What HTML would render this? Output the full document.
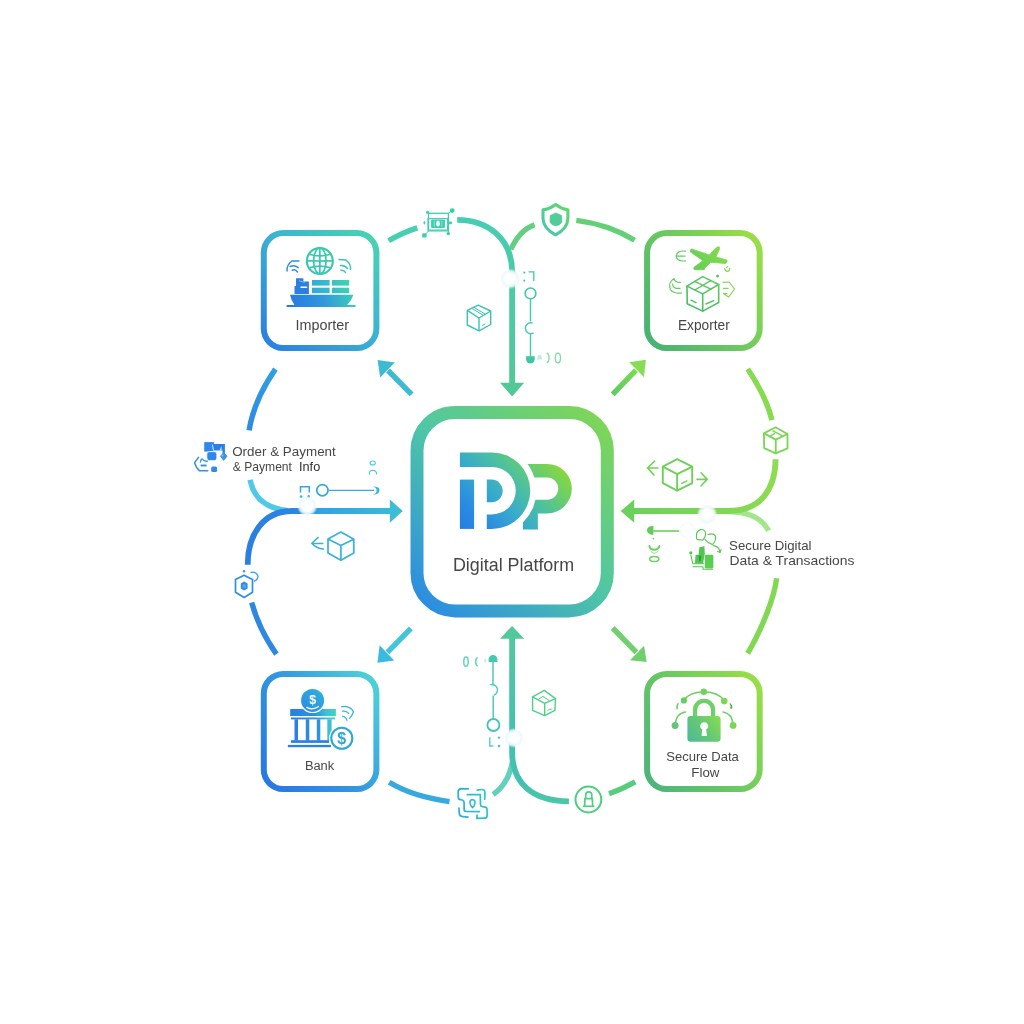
<!DOCTYPE html>
<html>
<head>
<meta charset="utf-8">
<title>Digital Platform</title>
<style>
html,body{margin:0;padding:0;background:#ffffff;}
body{width:1024px;height:1024px;overflow:hidden;font-family:"Liberation Sans",sans-serif;}
svg{display:block;position:absolute;left:0;top:0;}
text{font-family:"Liberation Sans",sans-serif;fill:#464646;}
</style>
</head>
<body>
<svg width="1024" height="1024" viewBox="0 0 1024 1024">
<defs>
  <linearGradient id="gCenter" gradientUnits="userSpaceOnUse" x1="425" y1="610" x2="605" y2="415">
    <stop offset="0" stop-color="#2b8be3"/>
    <stop offset="0.5" stop-color="#4fc6a6"/>
    <stop offset="1" stop-color="#80d654"/>
  </linearGradient>
  <linearGradient id="gLogo" gradientUnits="userSpaceOnUse" x1="458" y1="532" x2="548" y2="446">
    <stop offset="0" stop-color="#227ce4"/>
    <stop offset="0.2" stop-color="#2a8be2"/>
    <stop offset="0.42" stop-color="#38aacc"/>
    <stop offset="0.62" stop-color="#4cc0a0"/>
    <stop offset="0.82" stop-color="#6ecf66"/>
    <stop offset="1" stop-color="#90da30"/>
  </linearGradient>
  <linearGradient id="gImp" gradientUnits="userSpaceOnUse" x1="265" y1="348" x2="378" y2="233">
    <stop offset="0" stop-color="#2a7de2"/>
    <stop offset="0.55" stop-color="#3cb4d2"/>
    <stop offset="1" stop-color="#49d5ae"/>
  </linearGradient>
  <linearGradient id="gExp" gradientUnits="userSpaceOnUse" x1="645" y1="330" x2="765" y2="252">
    <stop offset="0" stop-color="#4ab272"/>
    <stop offset="0.5" stop-color="#6cca60"/>
    <stop offset="1" stop-color="#9ade46"/>
  </linearGradient>
  <linearGradient id="gBank" gradientUnits="userSpaceOnUse" x1="262" y1="775" x2="380" y2="692">
    <stop offset="0" stop-color="#2878e2"/>
    <stop offset="0.5" stop-color="#3398e0"/>
    <stop offset="1" stop-color="#4cd0d8"/>
  </linearGradient>
  <linearGradient id="gSec" gradientUnits="userSpaceOnUse" x1="645" y1="770" x2="765" y2="694">
    <stop offset="0" stop-color="#4eb57a"/>
    <stop offset="0.5" stop-color="#6cca60"/>
    <stop offset="1" stop-color="#98de48"/>
  </linearGradient>
  <linearGradient id="gTopV" gradientUnits="userSpaceOnUse" x1="457" y1="218" x2="512" y2="390">
    <stop offset="0" stop-color="#45cdb4"/>
    <stop offset="1" stop-color="#52c896"/>
  </linearGradient>
  <linearGradient id="gLeftH" gradientUnits="userSpaceOnUse" x1="247" y1="540" x2="395" y2="540">
    <stop offset="0" stop-color="#2a7fe2"/>
    <stop offset="0.38" stop-color="#2a88e2"/>
    <stop offset="0.5" stop-color="#2fa4e2"/>
    <stop offset="1" stop-color="#3bbad8"/>
  </linearGradient>
  <linearGradient id="gRightH" gradientUnits="userSpaceOnUse" x1="776" y1="460" x2="630" y2="511">
    <stop offset="0" stop-color="#90dc50"/>
    <stop offset="1" stop-color="#6bd05c"/>
  </linearGradient>
  <linearGradient id="gBotV" gradientUnits="userSpaceOnUse" x1="512" y1="630" x2="512" y2="801">
    <stop offset="0" stop-color="#52c89c"/>
    <stop offset="0.55" stop-color="#46c2b0"/>
    <stop offset="0.9" stop-color="#44c0b2"/>
    <stop offset="1" stop-color="#4ac6a8"/>
  </linearGradient>
  <mask id="mP" maskUnits="userSpaceOnUse" x="440" y="430" width="160" height="130">
    <rect x="440" y="430" width="160" height="130" fill="#fff"/>
    <circle cx="492" cy="490.65" r="44.4" fill="#000"/>
    <rect x="440" y="500" width="83" height="60" fill="#000"/>
  </mask>
  <linearGradient id="gImpIc" gradientUnits="userSpaceOnUse" x1="290" y1="306" x2="345" y2="250">
    <stop offset="0" stop-color="#2878e2"/>
    <stop offset="0.45" stop-color="#34a8d6"/>
    <stop offset="0.75" stop-color="#3cc8b2"/>
    <stop offset="1" stop-color="#36c9a4"/>
  </linearGradient>
  <linearGradient id="gImpIc2" gradientUnits="userSpaceOnUse" x1="312" y1="293" x2="349" y2="280">
    <stop offset="0" stop-color="#33a6dc"/>
    <stop offset="1" stop-color="#42d2b0"/>
  </linearGradient>
  <linearGradient id="gPlane" gradientUnits="userSpaceOnUse" x1="692" y1="270" x2="726" y2="248">
    <stop offset="0" stop-color="#62cc5a"/>
    <stop offset="1" stop-color="#86de48"/>
  </linearGradient>
  <linearGradient id="gBoxE" gradientUnits="userSpaceOnUse" x1="687" y1="310" x2="719" y2="277">
    <stop offset="0" stop-color="#44ba62"/>
    <stop offset="1" stop-color="#64cc62"/>
  </linearGradient>
  <linearGradient id="gBankRoof" gradientUnits="userSpaceOnUse" x1="290" y1="712" x2="336" y2="712">
    <stop offset="0" stop-color="#2a7de2"/>
    <stop offset="0.55" stop-color="#2f92e0"/>
    <stop offset="0.8" stop-color="#3cc4d0"/>
    <stop offset="1" stop-color="#42d4c0"/>
  </linearGradient>
  <linearGradient id="gCoin" gradientUnits="userSpaceOnUse" x1="304" y1="710" x2="321" y2="691">
    <stop offset="0" stop-color="#2a8ee2"/>
    <stop offset="1" stop-color="#30aede"/>
  </linearGradient>
  <linearGradient id="gLock" gradientUnits="userSpaceOnUse" x1="689" y1="741" x2="720" y2="717">
    <stop offset="0" stop-color="#50ba94"/>
    <stop offset="0.5" stop-color="#64c878"/>
    <stop offset="1" stop-color="#8adc4e"/>
  </linearGradient>
  <linearGradient id="gShield" gradientUnits="userSpaceOnUse" x1="545" y1="233" x2="567" y2="206">
    <stop offset="0" stop-color="#46c6ac"/>
    <stop offset="1" stop-color="#64d66c"/>
  </linearGradient>
  <linearGradient id="gGlobe" gradientUnits="userSpaceOnUse" x1="310" y1="274" x2="330" y2="248">
    <stop offset="0" stop-color="#3cc4b8"/>
    <stop offset="1" stop-color="#35cda0"/>
  </linearGradient>
  <linearGradient id="gHull" gradientUnits="userSpaceOnUse" x1="288" y1="303" x2="355" y2="296">
    <stop offset="0" stop-color="#2878e2"/>
    <stop offset="0.5" stop-color="#3096dc"/>
    <stop offset="1" stop-color="#3eccb8"/>
  </linearGradient>
  <linearGradient id="gNE" gradientUnits="userSpaceOnUse" x1="612" y1="394" x2="640" y2="366">
    <stop offset="0" stop-color="#5ccc62"/>
    <stop offset="1" stop-color="#84db52"/>
  </linearGradient>
  <linearGradient id="gLU" gradientUnits="userSpaceOnUse" x1="275" y1="369" x2="249" y2="430">
    <stop offset="0" stop-color="#2fa0e0"/>
    <stop offset="1" stop-color="#2e8ae2"/>
  </linearGradient>
  <linearGradient id="gScan" gradientUnits="userSpaceOnUse" x1="458" y1="805" x2="487" y2="800">
    <stop offset="0" stop-color="#2aaedc"/>
    <stop offset="1" stop-color="#2ccabc"/>
  </linearGradient>
  <radialGradient id="glowW">
    <stop offset="0" stop-color="#ffffff" stop-opacity="1"/>
    <stop offset="0.6" stop-color="#ffffff" stop-opacity="0.95"/>
    <stop offset="1" stop-color="#ffffff" stop-opacity="0"/>
  </radialGradient>
  <radialGradient id="glowW2">
    <stop offset="0" stop-color="#ffffff" stop-opacity="1"/>
    <stop offset="0.7" stop-color="#ffffff" stop-opacity="1"/>
    <stop offset="0.88" stop-color="#f1fbf6" stop-opacity="0.9"/>
    <stop offset="1" stop-color="#f1fbf6" stop-opacity="0"/>
  </radialGradient>
  <radialGradient id="glow">
    <stop offset="0" stop-color="#ffffff" stop-opacity="1"/>
    <stop offset="0.5" stop-color="#fcfeff" stop-opacity="1"/>
    <stop offset="0.74" stop-color="#ecf8fc" stop-opacity="0.9"/>
    <stop offset="1" stop-color="#ecf8fc" stop-opacity="0"/>
  </radialGradient>
</defs>

<!-- ===== CONNECTORS ===== -->
<g id="connectors" fill="none" stroke-linecap="butt" stroke-width="5.4">
  <!-- top -->
  <path d="M388.6,240.8 Q402,232.8 417.3,227.9" stroke="#47cfb2"/>
  <path d="M576.3,220.4 C598,223 618,230.2 634.6,240.2" stroke="#62d076"/>
  <path d="M534.6,224.7 Q519.7,229.9 510.8,249.5" stroke="#66ce84"/>
  <path d="M457.2,219.8 C487,219.8 512.1,238 512.1,272 L512.1,384" stroke="url(#gTopV)" stroke-width="5.8"/>
  <polygon points="500,382.8 524.2,382.8 512.1,396.5" fill="#52c896" stroke="none"/>
  <!-- left -->
  <path d="M275.4,369.1 C263,387 252.5,409 249.1,430.4" stroke="url(#gLU)"/>
  <path d="M250.1,479.8 C253.4,497 265,508.4 288,510.6" stroke="#50c9e8"/>
  <path d="M251.7,602.5 C256.4,620 264,636.6 276.4,654.1" stroke="#2e88e0"/>
  <path d="M247.7,564.7 C247.7,535 263,511 292,511 L391,511" stroke="url(#gLeftH)" stroke-width="5.8"/>
  <polygon points="389.9,499.6 389.9,522.8 402.8,511.1" fill="#3dbcd6" stroke="none"/>
  <!-- right -->
  <path d="M747.7,369.1 C759,386 768,403.5 771.95,420.2" stroke="#88db50"/>
  <path d="M728,511.6 C746,511.6 761,516.5 768.6,530.6" stroke="#a2e68c"/>
  <path d="M776.6,578.25 C774.5,597 762.5,628 747.7,653.4" stroke="#82d852"/>
  <path d="M775.7,459.3 C775,490 760.5,511 728,511 L634,511" stroke="url(#gRightH)" stroke-width="5.8"/>
  <polygon points="634.2,499.6 634.2,522.8 620.6,511.1" fill="#6bd05c" stroke="none"/>
  <!-- bottom -->
  <path d="M449.5,801.6 C425,798.2 405,792 389.2,782.3" stroke="#36aade"/>
  <path d="M609.1,793.7 Q623,788.8 635.2,781.9" stroke="#56cc7c"/>
  <path d="M512.4,762 C509.6,777 502.6,788 493.1,794.4" stroke="#62d0bc"/>
  <path d="M512.1,638 L512.1,752 C512.1,782 531,801.3 568.9,801.3" stroke="url(#gBotV)" stroke-width="5.8"/>
  <polygon points="500,638.7 524.2,638.7 512.1,625.9" fill="#52c99a" stroke="none"/>
  <!-- diagonal arrows -->
  <line x1="411.6" y1="394.3" x2="388" y2="370.5" stroke="#3cbbd2"/>
  <polygon points="377.6,359.9 394.8,362.5 380.2,377.5" fill="#3cbbd2" stroke="none"/>
  <line x1="612.65" y1="394.3" x2="636" y2="370.2" stroke="url(#gNE)"/>
  <polygon points="645.9,359.7 629.2,362.3 643.9,376.9" fill="#86dc52" stroke="none"/>
  <line x1="410.9" y1="628.4" x2="387.4" y2="652.4" stroke="#40c6d8"/>
  <polygon points="377.5,662.7 394.2,660.6 379.6,645.2" fill="#3cb9de" stroke="none"/>
  <line x1="612.7" y1="628" x2="636.4" y2="652.4" stroke="#70d070"/>
  <polygon points="646.6,661.9 630,660.3 644.1,645.8" fill="#6ecf6c" stroke="none"/>
</g>

<!-- ===== BOXES ===== -->
<g id="boxes" fill="none">
  <rect x="417" y="412.4" width="190.3" height="198.5" rx="38" ry="38" stroke="url(#gCenter)" stroke-width="13"/>
  <rect x="263.8" y="233.1" width="112.6" height="114.9" rx="19.5" ry="19.5" stroke="url(#gImp)" stroke-width="6"/>
  <rect x="647.1" y="233.1" width="112.6" height="114.9" rx="19.5" ry="19.5" stroke="url(#gExp)" stroke-width="6"/>
  <rect x="263.8" y="674" width="112.6" height="115" rx="19.5" ry="19.5" stroke="url(#gBank)" stroke-width="6"/>
  <rect x="647.1" y="674" width="112.6" height="115" rx="19.5" ry="19.5" stroke="url(#gSec)" stroke-width="6"/>
</g>

<!-- ===== LOGO ===== -->
<g id="logo" fill="url(#gLogo)">
  <!-- i bar -->
  <rect x="459.9" y="479.6" width="14.2" height="49.3"/>
  <!-- D ring -->
  <path d="M459.9,452.4 L492,452.4 A38.2,38.2 0 0 1 492,528.9 L486.8,528.9 L486.8,514.4 L492,514.4 A23.7,23.7 0 0 0 492,466.9 L459.9,466.9 Z"/>
  <!-- inner small D -->
  <path d="M486.8,479.6 L491.4,479.6 A11.3,11.3 0 0 1 491.4,502.2 L486.8,502.2 Z"/>
  <!-- P -->
  <g mask="url(#mP)">
    <path fill-rule="evenodd" d="M500,463.9 L547.1,463.9 A24.75,24.75 0 0 1 547.1,513.4 L537.85,513.4 L537.85,529.5 L500,529.5 Z M500,477.45 L547.1,477.45 A11.1,11.1 0 0 1 547.1,499.7 L500,499.7 Z"/>
  </g>
</g>

<!-- ===== ICONS ===== -->
<g id="icons">
  <!-- Importer icon -->
  <g id="ic-importer">
    <g fill="none" stroke="url(#gGlobe)" stroke-width="2.1">
      <circle cx="319.85" cy="260.95" r="13"/>
      <ellipse cx="319.85" cy="260.95" rx="6.2" ry="13" stroke-width="1.7"/>
      <line x1="319.85" y1="248" x2="319.85" y2="274" stroke-width="1.7"/>
      <line x1="306.8" y1="260.95" x2="332.9" y2="260.95" stroke-width="1.7"/>
      <path d="M309,254.2 Q319.85,257.4 330.7,254.2 M309,267.7 Q319.85,264.5 330.7,267.7" stroke-width="1.7"/>
    </g>
    <g fill="none" stroke="#2f8fe0" stroke-width="1.5" stroke-linecap="round">
      <path d="M292.2,270.3 A4.2,4.2 0 0 1 297.5,272"/>
      <path d="M290,266.5 A7.6,7.6 0 0 1 298.2,267.6" />
      <path d="M287,271 Q286.5,265 292,261 L299,261" />
    </g>
    <g fill="none" stroke="#3cc4b4" stroke-width="1.5" stroke-linecap="round">
      <path d="M341,270.3 A4.2,4.2 0 0 1 345.5,272.5"/>
      <path d="M340.5,265.6 A7.6,7.6 0 0 1 347.5,268.5" />
      <path d="M339,259.6 L346,260 Q351,264 350.5,269.5" />
    </g>
    <path fill="url(#gHull)" d="M290,294.7 L353.4,294.7 Q351.5,301 347.2,304.9 L355.6,304.9 L355.6,307.1 L286.6,307.1 L286.6,304.9 L294.5,304.9 Q291.2,300.5 290,294.7 Z"/>
    <g fill="url(#gImpIc2)">
      <rect x="312" y="280" width="17.6" height="5.6"/>
      <rect x="332" y="280" width="17.2" height="5.6"/>
      <rect x="312" y="287.7" width="17.6" height="5.5"/>
      <rect x="332" y="287.7" width="17.2" height="5.5"/>
    </g>
    <path fill="#2c7fe0" d="M296,278.3 L303.4,278.3 L303.4,281.4 L308.9,281.4 L308.9,293.9 L294.5,293.9 L294.5,286 L296,286 Z"/>
    <rect x="300.3" y="286.4" width="7" height="1.7" rx="0.8" fill="#fff"/>
    <path d="M299,280.8 L305,282.3" stroke="#8cc0f2" stroke-width="0.9" fill="none"/>
  </g>
  <!-- Exporter icon -->
  <g id="ic-exporter">
    <path fill="url(#gPlane)" stroke="url(#gPlane)" stroke-width="0.8" stroke-linejoin="round" d="M691.4,248.9 L709.3,254.9 L715.9,247.9 Q718.2,246.2 719.4,247 Q720,248.4 719.2,250 L715.9,256.8 L727,260.2 Q727.8,261.8 725.6,263.6 L710.9,262.2 L704.8,268 L704.2,269.8 L694.3,269.7 Q693.6,268.4 694,267.2 L703,260.7 L690.5,252 Q689.8,250 691.4,248.9 Z"/>
    <g fill="none" stroke="url(#gBoxE)" stroke-width="1.6" stroke-linejoin="round" stroke-linecap="round">
      <path d="M702.7,276.6 L718.7,284.5 L718.7,302.5 L702.7,311.1 L687.2,303.7 L687,286.1 Z"/>
      <path d="M687,286.1 L702.7,293.9 L718.7,284.5 M702.7,293.9 L702.7,311.1"/>
      <path d="M694.6,281.4 L710.8,289.2 M710.7,280.6 L694.8,290" stroke-width="1.4"/>
      <path d="M691,300.2 L696,302.6 M706,304 L713.6,300.6" stroke-width="1.4"/>
    </g>
    <g fill="none" stroke="#62cc62" stroke-width="1.2" stroke-linecap="round">
      <path d="M685.6,251.2 Q677,250 676.2,256.4 Q677.4,262 685.6,260.8 M677,256.2 L685,256.2"/>
      <path d="M674,278.6 Q667.5,283 670.4,289.6 Q674,294 681.6,293 M674,278.6 Q675,282.6 680.4,282.4 M672.6,284.2 Q673,289 680,288.4"/>
    </g>
    <g fill="none" stroke="#7fd650" stroke-width="1.2" stroke-linecap="round" stroke-linejoin="round">
      <path d="M723,282.4 L729,282 L734.6,289 L728.6,297 L723.4,293.6 M723.4,288.4 L728,288.4 M723.4,293.6 L727,293.6"/>
      <path d="M724.6,268.6 Q725.4,271.6 728,271.4 Q730,270.6 729.6,268.4 M726.4,267.6 L727.6,266.6"/>
    </g>
    <circle cx="717.6" cy="276" r="1.5" fill="#62c85c"/>
  </g>
  <!-- Bank icon -->
  <g id="ic-bank" opacity="0.999">
    <rect x="290.2" y="709" width="45.7" height="7" fill="url(#gBankRoof)"/>
    <rect x="291" y="717.5" width="44.1" height="1.9" fill="url(#gBankRoof)"/>
    <g fill="#2b80e2">
      <rect x="294.5" y="719.3" width="3.5" height="21.3"/>
      <rect x="305.8" y="719.3" width="3.5" height="21.3" fill="#2c88e2"/>
      <rect x="316.8" y="719.3" width="3.5" height="21.3" fill="#2e92e0"/>
      <rect x="327.3" y="719.3" width="4.3" height="21.3" fill="#3cc0d2"/>
      <rect x="291" y="740.2" width="38" height="2.7"/>
      <rect x="287.9" y="744.9" width="43" height="2.3"/>
    </g>
    <circle cx="312.6" cy="700.4" r="12.7" fill="#fff"/>
    <circle cx="312.6" cy="700.4" r="11.5" fill="url(#gCoin)"/>
    <text x="312.7" y="703.6" font-size="12.6" font-weight="bold" text-anchor="middle" style="fill:#fff">$</text>
    <path d="M306.8,707.4 Q312.6,710.6 318.6,706.6" fill="none" stroke="#fff" stroke-width="1.2" stroke-linecap="round"/>
    <circle cx="341.8" cy="738.25" r="12.8" fill="#fff"/>
    <circle cx="341.8" cy="738.25" r="10.5" fill="none" stroke="#2fa6d6" stroke-width="2.1"/>
    <text x="341.8" y="743.8" font-size="16" font-weight="bold" text-anchor="middle" style="fill:#2fa6d6">$</text>
    <g fill="none" stroke="#38b4dc" stroke-width="1.3" stroke-linecap="round">
      <path d="M341.6,706.6 L346,706.4 Q352,708 353.4,712 Q352,716 349.6,718.4"/>
      <path d="M342.6,711.2 Q346.6,710.6 348.6,713.4"/>
      <path d="M342.6,716.4 Q345.6,716.6 347,720.4"/>
    </g>
  </g>
  <!-- Secure lock icon -->
  <g id="ic-lock">
    <g fill="none" stroke="#6dd062" stroke-width="1.5" stroke-linecap="round">
      <path d="M683.9,700.4 C687.4,694.6 695,692 703.8,691.8 C713,692 720.6,694.8 724.2,701.1"/>
      <path d="M685.5,712.1 Q676,713.4 675.1,725.4"/>
      <path d="M723,712.1 Q732.4,713.6 733.1,725.4"/>
    </g>
    <g fill="#66cc64">
      <circle cx="683.9" cy="700.4" r="3.1"/>
      <circle cx="703.8" cy="691.8" r="3.2" fill="#72d25c"/>
      <circle cx="724.2" cy="701.1" r="3.3" fill="#7cd654"/>
      <circle cx="675.1" cy="725.4" r="3.5" fill="#62c878"/>
      <circle cx="733.1" cy="725.4" r="3.4" fill="#7cd656"/>
      <path d="M678.2,702.6 Q675.4,705.6 676.6,709.6 L677.8,709.2 Q677.4,706 678.8,703.4 Z" fill="#62cc66"/>
      <path d="M730,703 Q733.2,705 732,709 L730.2,708.4 Q731,705.6 729.6,703.4 Z" fill="#52b44c"/>
    </g>
    <path d="M695.05,717 L695.05,709.95 A9,9 0 0 1 713.05,709.95 L713.05,717" fill="none" stroke="#6fd068" stroke-width="4.3"/>
    <rect x="687.4" y="716" width="33.2" height="25.8" rx="3.2" fill="url(#gLock)"/>
    <path d="M704.2,722.4 A3.6,3.6 0 0 1 706.2,729.2 L706.9,735.9 L701.6,735.9 L702.2,729.2 A3.6,3.6 0 0 1 704.2,722.4 Z" fill="#fff"/>
  </g>
  <!-- ===== small icons: TOP ===== -->
  <g id="sm-top">
    <!-- chip -->
    <g fill="none" stroke="#3ccfb0" stroke-width="1.3">
      <rect x="428.5" y="213.3" width="19.9" height="17.6"/>
      <rect x="428" y="218.6" width="19.6" height="11.4" stroke-width="1.1"/>
      <path d="M428.5,213.3 L427.6,212.3 M448.4,213.3 L452,210.6 M428.5,230.9 L424.6,235.2 M448.4,230.9 L448.3,233.4" stroke-width="1"/>
    </g>
    <rect x="431.1" y="219.4" width="13.8" height="8.6" rx="1" fill="#3ccdb0"/>
    <ellipse cx="438" cy="223.6" rx="1.8" ry="3" fill="#fff"/>
    <path d="M434.2,220.6 L434.2,226.8 M441.8,220.6 L441.8,226.8" stroke="#9be6d6" stroke-width="0.9"/>
    <circle cx="427.6" cy="212.3" r="1.6" fill="#3cd0b4"/>
    <circle cx="452.2" cy="210.6" r="2.4" fill="#2fd4a0"/>
    <rect x="422.2" y="233.2" width="4.4" height="4.4" rx="1.2" fill="#3ccfb8"/>
    <circle cx="448.3" cy="233.6" r="1.7" fill="#34d0a4"/>
    <path d="M424.4,220.8 L425.6,222.8 L424.4,224.8 L423.2,222.8 Z" fill="#3ccfb8"/>
    <rect x="448.4" y="221.4" width="3.6" height="2.8" rx="1" fill="#3ccfb0"/>
    <!-- shield -->
    <path d="M555.7,204.4 Q550,208.8 543,209.9 L543,218.5 Q543.4,228.6 555.6,234.8 Q567.6,228.6 567.9,218.5 L567.9,209.9 Q561.5,208.8 555.7,204.4 Z" fill="none" stroke="url(#gShield)" stroke-width="3.1" stroke-linejoin="round"/>
    <path d="M555.9,213 L561.6,215.6 L561.8,222.4 Q559.6,225.4 555.9,225.8 Q552.2,225.4 550,222.4 L550.2,215.6 Z" fill="#52cc98" stroke="#52cc98" stroke-width="0.8" stroke-linejoin="round"/>
    <!-- box left of vertical -->
    <g fill="none" stroke="#3cc0b8" stroke-width="1.4" stroke-linejoin="round">
      <path d="M478.2,305.1 L490.7,311 L490.7,324.5 L479,330.9 L467.3,325 L467.3,310.4 Z"/>
      <path d="M467.3,310.4 L479,318 L490.7,311 M479,318 L479,330.9"/>
      <path d="M473.6,307.2 L485.4,314.2 M471.6,308.2 L483.4,315.4" stroke-width="1"/>
      <path d="M482,325.6 L485.4,323.8" stroke-width="0.9"/>
    </g>
    <!-- flow widget right of vertical -->
    <g fill="none" stroke="#40c8b0" stroke-width="1.4">
      <path d="M528.6,271.8 L533.8,271.8 L533.8,281.1" stroke-width="1.3"/>
      <circle cx="530.5" cy="293.4" r="5.4" stroke-width="1.6"/>
      <path d="M530.5,299 L530.5,321.4"/>
      <path d="M533.6,332.8 A5.4,5.4 0 1 1 532.8,323.2" stroke="#48ccb4"/>
      <path d="M530.5,333.6 L530.5,357.3"/>
    </g>
    <circle cx="524.3" cy="272.6" r="1.1" fill="#40c8b0"/>
    <circle cx="524.3" cy="280.6" r="1.1" fill="#40c8b0"/>
    <path d="M526.1,356.2 L534.7,356.2 L534.7,359.2 A4.3,4.3 0 0 1 526.1,359.2 Z" fill="#3cc8a0"/>
    <g fill="none" stroke="#84dcae" stroke-width="1.4">
      <path d="M546.6,353 A3,5 0 0 1 546.6,362.8"/>
      <ellipse cx="557.9" cy="357.9" rx="2.6" ry="4.8"/>
    </g>
    <path d="M538,355 A3,3 0 0 1 541.6,359.4 L537,359.6 Z" fill="#c2ecdc"/>
  </g>

  <!-- ===== small icons: LEFT ===== -->
  <g id="sm-left">
    <!-- label icon -->
    <rect x="204.2" y="442.1" width="9.7" height="9.5" fill="#3088e8"/>
    <path d="M212.9,444.1 L224.9,444.1 L224.9,455.5 L222.5,455.5 L222.5,450.6 L212.9,450.6 Z" fill="#2a80e4"/>
    <path d="M221.4,446 L219.6,450.6 L221.6,450.6 Z" fill="#d8e9fb"/>
    <path d="M212.4,444.6 L213.6,450.8" stroke="#e6f1fd" stroke-width="0.9" fill="none"/>
    <rect x="206.8" y="451.6" width="10.1" height="9.1" rx="2.6" fill="#2f88e8" stroke="#fff" stroke-width="0.9"/>
    <path d="M223.7,452.6 L227,456.2 L223.7,460.4 L220.4,456.2 Z" fill="#3a92e2" stroke="#3a92e2" stroke-width="0.8" stroke-linejoin="round"/>
    <path d="M221.6,454.6 L223.4,454.6 L223.4,456.4 L221.6,456.4 Z" fill="#7fc0f2"/>
    <rect x="211.2" y="466.5" width="5.9" height="5.6" rx="1.6" fill="#2f8ae8"/>
    <g fill="none" stroke="#3090e8" stroke-width="1.5" stroke-linecap="round" stroke-linejoin="round">
      <path d="M198.5,457.4 L194.6,462.6 Q196,468 199.6,470.8 L207.8,470.8"/>
      <path d="M200.4,462 Q200.8,459.4 202,458.8 Q203.6,461.6 207.4,461.2" stroke-width="1.3"/>
      <path d="M200.6,465.5 L206.6,465.5" stroke-width="1.9" stroke-linecap="butt"/>
    </g>
    <!-- bracket + circle + arrow -->
    <g fill="none" stroke="#30a8e0" stroke-width="1.3">
      <path d="M300.5,492.4 L300.5,486.7 L309.3,486.7 L309.3,492.4" stroke-width="1.5"/>
      <circle cx="322.4" cy="490.2" r="5.6" stroke-width="1.7"/>
      <path d="M328.4,490.4 L374,490.4" stroke-width="1.4" stroke="#35ace4"/>
    </g>
    <circle cx="301.1" cy="496.6" r="1.3" fill="#3cb4e6"/>
    <circle cx="308.7" cy="496.4" r="1.3" fill="#3cb4e6"/>
    <path d="M372.6,486.2 Q380.4,486.6 379.4,490.6 Q379.6,494.6 372.6,495 Q376.8,493.6 376.6,490.5 Q376.8,487.6 372.6,486.2 Z" fill="#3ab2ea"/>
    <g fill="none" stroke="#4cc4ec" stroke-width="1.1" stroke-linecap="round">
      <ellipse cx="372.7" cy="463" rx="2.6" ry="2"/>
      <path d="M369.4,474.4 Q368.8,470.6 372.6,470.2 Q376.6,470.4 376.6,474"/>
    </g>
    <!-- box with arrow -->
    <g fill="none" stroke="#38b0e2" stroke-width="1.7" stroke-linejoin="round">
      <path d="M340.9,532 L353.8,539.3 L353.8,553.1 L340.9,560.2 L328,553.1 L328,539.1 Z"/>
      <path d="M328,539.1 L340.9,545.5 L353.8,539.3 M340.9,545.5 L340.9,560.2"/>
    </g>
    <g fill="none" stroke="#38b0e2" stroke-width="1.5" stroke-linecap="round">
      <path d="M318.2,537.4 L311.8,543.3 Q316,548.6 323.4,549 M312,543.4 L322.8,543.5"/>
    </g>
    <!-- hexagon -->
    <path d="M244.1,575.2 L252.5,579.6 L252.5,592.2 L244.1,597.5 L235.5,592.2 L235.5,579.6 Z" fill="none" stroke="#2e8ee6" stroke-width="1.7" stroke-linejoin="round"/>
    <path d="M244.1,581.6 L247.6,583.6 L247.6,588.4 L244.1,590.4 L240.8,588.4 L240.8,583.6 Z" fill="#2e8ee6"/>
    <path d="M242.6,585.2 L245.8,585.2 M242.6,587 L245.8,587" stroke="#9cc8f4" stroke-width="0.7"/>
    <circle cx="244" cy="571.2" r="1.2" fill="#3a98ea"/>
    <path d="M251,572.4 Q257,571.6 258,576.4 Q257.8,580 254.4,581" fill="none" stroke="#4aa2ee" stroke-width="1.4" stroke-linecap="round"/>
  </g>

  <!-- ===== small icons: RIGHT ===== -->
  <g id="sm-right">
    <g fill="none" stroke="#78d650" stroke-width="1.8" stroke-linejoin="round">
      <path d="M775.5,427.3 L787.5,434 L787.5,448.4 L775.75,453.35 L764.2,448.1 L763.9,433.4 Z"/>
      <path d="M763.9,433.4 L775.75,439.6 L787.5,434 M775.75,439.6 L775.75,453.35"/>
      <path d="M772.4,430.6 L782.4,435.8 M769.8,436.4 L775,433.4" stroke-width="1.4"/>
    </g>
    <g fill="none" stroke="#6ed058" stroke-width="1.9" stroke-linejoin="round">
      <path d="M677.15,459.1 L692.2,466.65 L692.2,483.05 L677.15,490.6 L662.8,483.05 L662.8,466.65 Z"/>
      <path d="M662.8,466.65 L677.15,474.2 L692.2,466.65 M677.15,474.2 L677.15,490.6"/>
      <path d="M681.25,483.7 L687.4,480.7" stroke-width="1.4"/>
    </g>
    <g fill="none" stroke="#72d258" stroke-width="1.6" stroke-linecap="round" stroke-linejoin="round">
      <path d="M654.6,461.2 L647.5,468 L653.9,474.85 M647.7,468 L658,468"/>
      <path d="M701.1,472.8 L707.2,479.4 L701.1,485.8 M697,479.4 L707,479.4"/>
    </g>
    <!-- widget below line -->
    <path d="M653.4,525.8 Q646.6,526.6 647,530.6 Q647.2,534.6 653.4,535 Z" fill="#62cc58"/>
    <path d="M653.2,531 L679.4,531" stroke="#74d462" stroke-width="1.7" fill="none"/>
    <circle cx="653.4" cy="538.6" r="0.9" fill="#74d468"/>
    <g fill="none" stroke="#6ed062" stroke-linecap="round">
      <path d="M649.4,546 C650.6,551 658,551 659.4,546" stroke-width="2"/>
      <path d="M650.6,551 C652.4,554 656.4,554 658.2,551" stroke-width="1" stroke="#8cdc82"/>
      <ellipse cx="654.3" cy="559.1" rx="4.6" ry="2.5" stroke-width="1.5"/>
    </g>
    <!-- people icon -->
    <g fill="none" stroke="#52c850" stroke-width="1.1" stroke-linecap="round" stroke-linejoin="round">
      <path d="M696.6,538.4 Q695.4,531 700.6,529.6 Q705.6,529.2 705.6,534.4 Q705.2,538.2 702.6,540.2 L697,539.4"/>
      <path d="M708,534.6 Q713.4,532.6 715.4,536 Q716.6,540 712.6,544.6 Q708.6,543.6 705,539.6"/>
      <path d="M713.4,545.6 Q719.4,546.4 720,552.2 M717.6,551.4 L720.2,552.6 L721,549.6"/>
      <path d="M690.8,555 L692.8,563.8 L703.6,563.8"/>
      <path d="M693,566.8 L703,566.8 L703,569.2 L712.6,569.2"/>
    </g>
    <circle cx="690.8" cy="552.8" r="1.6" fill="#52c850"/>
    <path d="M694.9,563.4 L695.6,554.7 L698.6,554.7 L699.4,547.2 L704.4,546.2 L704.8,554 L703,563.4 Z" fill="#52c650"/>
    <rect x="704.8" y="554.8" width="8.6" height="13.6" rx="1.4" fill="#5ccc54"/>
    <path d="M698.6,555.6 L701.4,555.6 L700.6,561.4 L699.2,561.4 Z" fill="#2f9e3c"/>
  </g>

  <!-- ===== small icons: BOTTOM ===== -->
  <g id="sm-bottom">
    <path d="M488.6,662 L488.6,659.4 A4.4,4.4 0 0 1 497.4,659.4 L497.4,662 Z" fill="#44c8b0"/>
    <g fill="none" stroke="#44c4b8" stroke-width="1.4">
      <path d="M493,660.6 L493,684.6"/>
      <path d="M490,684.9 A5.4,5.4 0 1 1 494,695.2" stroke="#4cc8bc"/>
      <path d="M493.2,695.4 L493.2,718.4"/>
      <circle cx="493.4" cy="725" r="6" stroke-width="1.8"/>
      <path d="M489.8,737.3 L489.8,746 L493.4,746" stroke-width="1.4" stroke="#58cec2"/>
    </g>
    <circle cx="499" cy="737.6" r="1.2" fill="#4cc8b8"/>
    <circle cx="499" cy="746" r="1.3" fill="#4cc8b8"/>
    <g fill="none" stroke="#62d2bc" stroke-width="1.5">
      <ellipse cx="466" cy="661.7" rx="2.2" ry="4.6"/>
      <path d="M477.6,657.4 A2.6,4.6 0 0 0 477.6,666.2"/>
    </g>
    <path d="M483.6,659.4 L486.4,659 L486,663.4 Z" fill="#bfeee2"/>
    <!-- green box -->
    <g fill="none" stroke="#4cd088" stroke-width="1.4" stroke-linejoin="round">
      <path d="M544.3,690.4 L555.5,698.6 L554.9,710.3 L544.7,715.6 L532.6,710.3 L532.6,696.8 Z"/>
      <path d="M532.6,696.8 L544.7,703.3 L555.5,698.6 M544.7,703.3 L544.7,715.6"/>
      <path d="M538.6,699 L543,696.4 L549.4,700.6" stroke-width="1"/>
      <path d="M547.4,710.6 Q549.6,708.6 551.8,709.2" stroke-width="1"/>
    </g>
    <!-- scan icon -->
    <g fill="none" stroke="url(#gScan)" stroke-width="1.7" stroke-linecap="round" stroke-linejoin="round">
      <path d="M468.4,788.8 L461.4,788.6 Q458.1,788.8 458.1,791.8 L458.3,797.4 Q458.4,799.4 460.4,799.6 L462.2,800 Q464.1,800.4 464.1,802.4 L464.1,809.2 Q464.1,811.2 466.1,811.3 L479.4,811.6"/>
      <path d="M477.2,790.1 L481.8,789.5 Q484.8,789.4 484.9,792.6 L484.7,799.3"/>
      <path d="M467.4,794.7 L480.3,794.7 L480.5,804.6 Q480.6,806.4 482.4,806.7 L485,807.1 Q487.1,807.4 487.1,809.6 L487.1,815.6 Q487,818.2 484.4,818.2 L476.9,818.4 L477,815.2"/>
      <path d="M459,808.1 L459.2,813 Q459.4,816.4 462.8,816.7 L468,817.1"/>
      <path d="M472.4,799.6 C476.2,800 475.6,804.6 472.6,807.8 C469.4,804.6 468.8,800 472.4,799.6 Z" stroke-width="1.5"/>
    </g>
    <!-- lock circle -->
    <circle cx="588.4" cy="799.5" r="12.9" fill="none" stroke="#48d07c" stroke-width="2"/>
    <g fill="none" stroke="#4cd080" stroke-width="1.7" stroke-linejoin="round">
      <path d="M584.6,806.2 L584.9,798.6 L592.3,798.6 L592.7,806.2"/>
      <path d="M582.8,806.3 L594.4,806.3" stroke-width="1.6"/>
      <path d="M585.7,798.6 L585.7,795 A3.05,3.05 0 0 1 591.8,795 L591.8,798.6"/>
    </g>
  </g>

  <!-- ===== glows ===== -->
  <g id="glows">
    <circle cx="510" cy="278.8" r="10.4" fill="url(#glow)"/>
    <circle cx="307.3" cy="506.2" r="10.4" fill="url(#glow)"/>
    <circle cx="707.1" cy="514.3" r="10.4" fill="url(#glow)"/>
    <circle cx="687.4" cy="530.4" r="8.6" fill="url(#glowW2)"/>
    <circle cx="513.9" cy="737.9" r="10" fill="url(#glow)"/>
    <circle cx="535.4" cy="327.6" r="5.5" fill="url(#glowW)"/>
    <circle cx="488" cy="689.4" r="5.5" fill="url(#glowW)"/>
  </g>
</g>

<!-- ===== TEXT ===== -->
<g id="labels" opacity="0.995">
  <text x="452.9" y="571.3" font-size="17.6" textLength="121.3" lengthAdjust="spacingAndGlyphs">Digital Platform</text>
  <text x="295.5" y="329.5" font-size="14" textLength="53.6" lengthAdjust="spacingAndGlyphs">Importer</text>
  <text x="677.9" y="329.5" font-size="14" textLength="51.9" lengthAdjust="spacingAndGlyphs">Exporter</text>
  <text x="304.9" y="769.7" font-size="13.7" textLength="29.3" lengthAdjust="spacingAndGlyphs">Bank</text>
  <text x="666.2" y="761.1" font-size="13.4" textLength="72.6" lengthAdjust="spacingAndGlyphs">Secure Data</text>
  <text x="691.3" y="776.7" font-size="13.4" textLength="28.2" lengthAdjust="spacingAndGlyphs">Flow</text>
  <text x="232.2" y="455.8" font-size="13.2" textLength="103.6" lengthAdjust="spacingAndGlyphs">Order &amp; Payment</text>
  <text x="232.7" y="471.4" font-size="13.2" textLength="59.3" lengthAdjust="spacingAndGlyphs">&amp; Payment</text>
  <text x="299" y="471.4" font-size="13.2" textLength="21.2" lengthAdjust="spacingAndGlyphs" style="fill:#2e2e2e">Info</text>
  <text x="729.1" y="550.2" font-size="13.2" textLength="82.4" lengthAdjust="spacingAndGlyphs">Secure Digital</text>
  <text x="729.5" y="564.7" font-size="13.2" textLength="125" lengthAdjust="spacingAndGlyphs">Data &amp; Transactions</text>
</g>
</svg>
</body>
</html>
